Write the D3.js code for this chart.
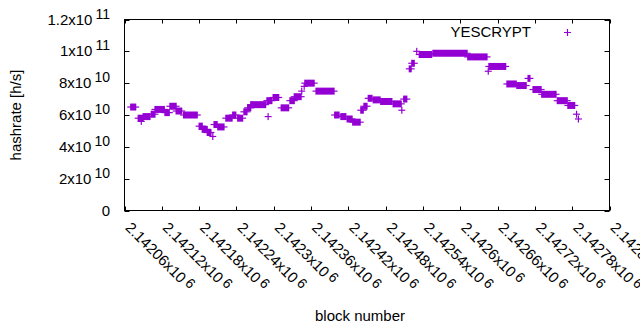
<!DOCTYPE html>
<html>
<head>
<meta charset="utf-8">
<script src="https://cdn.jsdelivr.net/npm/d3@7"></script>
<style>
  body { margin: 0; background: #fff; }
  text { font-family: "Liberation Sans", Arial, sans-serif; font-size: 15px; fill: #000; }
</style>
</head>
<body>
<div class="chart"></div>
<script>
// runs of blocks that report the same hashrate, a single point has start == end
var runStart = [2142070, 2142082, 2142087, 2142090, 2142103, 2142109, 2142125, 2142133, 2142143, 2142155,
                2142180, 2142185, 2142193, 2142202, 2142204, 2142210, 2142223, 2142234, 2142242, 2142252,
                2142258, 2142263, 2142289, 2142299, 2142291, 2142312, 2142326, 2142333, 2142345, 2142349,
                2142350, 2142368, 2142398, 2142408, 2142418, 2142427, 2142440, 2142445, 2142452, 2142460,
                2142472, 2142492, 2142506, 2142509, 2142518, 2142522, 2142530, 2142534, 2142556, 2142612,
                2142645, 2142646, 2142675, 2142691, 2142709, 2142717, 2142731, 2142756, 2142773, 2142787,
                2142790];
var runEnd   = [2142078, 2142090, 2142087, 2142101, 2142109, 2142124, 2142132, 2142143, 2142152, 2142177,
                2142185, 2142193, 2142199, 2142202, 2142209, 2142220, 2142233, 2142239, 2142250, 2142257,
                2142263, 2142287, 2142297, 2142308, 2142291, 2142324, 2142333, 2142344, 2142345, 2142349,
                2142365, 2142397, 2142405, 2142416, 2142426, 2142439, 2142444, 2142450, 2142458, 2142471,
                2142490, 2142505, 2142506, 2142514, 2142521, 2142526, 2142530, 2142554, 2142611, 2142643,
                2142645, 2142673, 2142690, 2142706, 2142712, 2142730, 2142754, 2142772, 2142784, 2142787,
                2142790];
var hashrate = [6.5e10, 5.8e10, 5.6e10, 5.9e10, 6.05e10, 6.35e10, 6.15e10, 6.55e10, 6.25e10, 6.0e10,
                5.3e10, 5.1e10, 4.9e10, 4.65e10, 5.4e10, 5.25e10, 5.8e10, 6.0e10, 5.8e10, 6.2e10,
                6.45e10, 6.65e10, 6.9e10, 7.1e10, 5.9e10, 6.45e10, 6.9e10, 7.15e10, 7.5e10, 7.8e10,
                8.0e10, 7.5e10, 6.0e10, 5.9e10, 5.75e10, 5.55e10, 6.3e10, 6.55e10, 7.05e10, 6.95e10,
                6.85e10, 6.7e10, 6.3e10, 7.0e10, 8.9e10, 9.25e10, 10.0e10, 9.8e10, 9.88e10, 9.65e10,
                8.75e10, 9.05e10, 7.95e10, 7.85e10, 8.3e10, 7.6e10, 7.3e10, 6.9e10, 6.6e10, 6.05e10,
                5.75e10];

var xTickValues = [2142060, 2142120, 2142180, 2142240, 2142300, 2142360, 2142420,
                   2142480, 2142540, 2142600, 2142660, 2142720, 2142780, 2142840];
var xTickLabels = ["2.14206", "2.14212", "2.14218", "2.14224", "2.1423", "2.14236", "2.14242",
                   "2.14248", "2.14254", "2.1426", "2.14266", "2.14272", "2.14278", "2.14284"];
var yTickValues = [0, 2e10, 4e10, 6e10, 8e10, 1e11, 1.2e11];
var yTickMantissa = ["0", "2", "4", "6", "8", "1", "1.2"];
var yTickExponent = ["", "10", "10", "10", "10", "11", "11"];

var seriesName = "YESCRYPT";
var color = "#9400d3";

var W = 640, H = 330;
var plot = {left: 124.5, right: 609.5, top: 19.5, bottom: 210.5};

var runs = runStart.map(function(s, i) {
  return {start: s, end: runEnd[i], value: hashrate[i]};
});

var xScale = d3.scaleLinear()
    .domain([xTickValues[0], xTickValues[xTickValues.length - 1]])
    .range([plot.left, plot.right]);

var yScale = d3.scaleLinear()
    .domain([0, 1.2e11])
    .range([plot.bottom, plot.top]);

var svg = d3.select(".chart").append("svg")
    .attr("width", W)
    .attr("height", H);

// ticks, inward on all four sides like gnuplot
var ticks = svg.append("g").attr("stroke", "#000").attr("stroke-width", 1);
yTickValues.forEach(function(v) {
  var yy = Math.round(yScale(v)) + 0.5;
  ticks.append("line").attr("x1", plot.left).attr("x2", plot.left + 5).attr("y1", yy).attr("y2", yy);
  ticks.append("line").attr("x1", plot.right).attr("x2", plot.right - 5).attr("y1", yy).attr("y2", yy);
});
xTickValues.forEach(function(v) {
  var xx = Math.round(xScale(v)) + 0.5;
  ticks.append("line").attr("x1", xx).attr("x2", xx).attr("y1", plot.bottom).attr("y2", plot.bottom - 4);
  ticks.append("line").attr("x1", xx).attr("x2", xx).attr("y1", plot.top).attr("y2", plot.top + 4);
});

// y tick labels, a x10^n
var yLab = svg.append("g").selectAll("text")
    .data(yTickValues)
  .enter().append("text")
    .attr("x", 110)
    .attr("y", function(d) { return yScale(d) + 5; })
    .attr("text-anchor", "end");
yLab.append("tspan").text(function(d, i) { return yTickMantissa[i] + (yTickExponent[i] ? "x10" : ""); });
yLab.filter(function(d, i) { return yTickExponent[i]; })
  .append("tspan")
    .attr("dx", 3)
    .attr("dy", -6)
    .style("font-size", "14px")
    .text(function(d) { return yTickExponent[yTickValues.indexOf(d)]; });

// x tick labels, rotated
var xLab = svg.append("g").selectAll("text")
    .data(xTickValues)
  .enter().append("text")
    .attr("transform", function(d) { return "translate(" + xScale(d) + "," + (plot.bottom + 18) + ") rotate(45)"; })
    .attr("text-anchor", "start");
xLab.append("tspan").text(function(d, i) { return xTickLabels[i] + "x10"; });
xLab.append("tspan")
    .attr("dx", 3)
    .attr("dy", -3)
    .style("font-size", "14px")
    .text("6");

// points: each run is the union of its + markers
var pts = svg.append("g");
pts.selectAll("rect")
    .data(runs)
  .enter().append("rect")
    .attr("x", function(d) { return xScale(d.start) - 0.6; })
    .attr("y", function(d) { return yScale(d.value) - 3.5; })
    .attr("width", function(d) { return xScale(d.end) - xScale(d.start) + 1.2; })
    .attr("height", 7)
    .attr("fill", color);
pts.selectAll("path")
    .data(runs)
  .enter().append("path")
    .attr("d", function(d) {
      var yy = yScale(d.value);
      return "M" + (xScale(d.start) - 3.5) + "," + yy + "H" + (xScale(d.end) + 3.5);
    })
    .attr("stroke", color)
    .attr("stroke-width", 1.2);

// border
svg.append("rect")
    .attr("x", plot.left)
    .attr("y", plot.top)
    .attr("width", plot.right - plot.left)
    .attr("height", plot.bottom - plot.top)
    .attr("fill", "none")
    .attr("stroke", "#000")
    .attr("stroke-width", 1);

// legend
svg.append("text")
    .attr("x", 531)
    .attr("y", 37)
    .attr("text-anchor", "end")
    .text(seriesName);
svg.append("path")
    .attr("d", "M564,32.5H571M567.5,29V36")
    .attr("stroke", color)
    .attr("stroke-width", 1.2);

// axis titles
svg.append("text")
    .attr("transform", "translate(21," + ((plot.top + plot.bottom) / 2) + ") rotate(-90)")
    .attr("text-anchor", "middle")
    .text("hashrate [h/s]");
svg.append("text")
    .attr("x", 360)
    .attr("y", 320.5)
    .attr("text-anchor", "middle")
    .text("block number");
</script>
</body>
</html>
